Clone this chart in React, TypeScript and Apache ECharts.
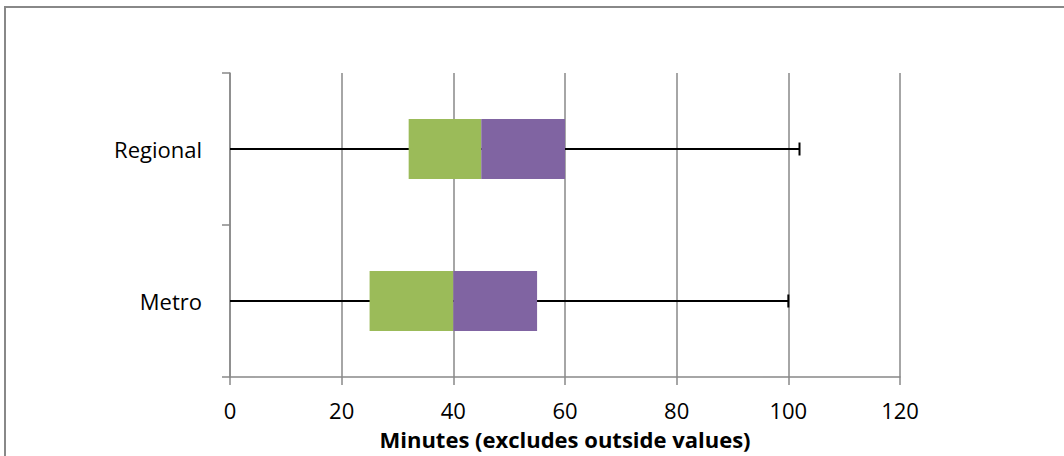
import React, { useEffect, useRef } from "react";
import * as echarts from "echarts";

const categories = ["Metro", "Regional"];
const whiskerLow = [0, 0];
const q1 = [25, 32];
const median = [40, 45];
const q3 = [55, 60];
const whiskerHigh = [100, 102];
const xTicks = { min: 0, max: 120, interval: 20 };
const axisTitle = "Minutes (excludes outside values)";

const FONT = "'Open Sans', 'Noto Sans', sans-serif";

export default function App() {
  const ref = useRef<HTMLDivElement>(null);
  useEffect(() => {
    document.body.style.margin = "0";
    if (!ref.current) return;
    const chart = echarts.init(ref.current, null, { renderer: "svg" });
    const lowerBox = q1.map((v, i) => median[i] - v);
    const upperBox = q3.map((v, i) => v - median[i]);
    const whiskerData = categories.map((_, i) => [i, whiskerLow[i], whiskerHigh[i]]);
    chart.setOption({
      animation: false,
      backgroundColor: "#ffffff",
      textStyle: { fontFamily: FONT },
      graphic: [
        {
          type: "rect",
          shape: { x: 5, y: 7, width: 1200, height: 600 },
          style: { fill: "none", stroke: "#888888", lineWidth: 2 },
          silent: true,
        },
      ],
      grid: { left: 230, right: 164, top: 73, bottom: 79, containLabel: false },
      xAxis: {
        type: "value",
        min: xTicks.min,
        max: xTicks.max,
        interval: xTicks.interval,
        name: axisTitle,
        nameLocation: "middle",
        nameGap: 51,
        nameTextStyle: { fontSize: 22, fontWeight: "bold", color: "#000", fontFamily: FONT },
        axisLine: { show: true, lineStyle: { color: "#888888", width: 1.5 } },
        axisTick: { show: true, length: 8, lineStyle: { color: "#888888", width: 1.5 } },
        axisLabel: { margin: 22, fontSize: 22, color: "#000", fontFamily: FONT },
        splitLine: { show: true, lineStyle: { color: "#888888", width: 1.5 } },
      },
      yAxis: {
        type: "category",
        data: categories,
        axisLine: { show: true, lineStyle: { color: "#888888", width: 1.5 } },
        axisTick: { show: true, length: 8, alignWithLabel: false, lineStyle: { color: "#888888", width: 1.5 } },
        axisLabel: { margin: 28, fontSize: 22, color: "#000", fontFamily: FONT },
        splitLine: { show: false },
      },
      series: [
        {
          type: "custom",
          z: 1,
          data: whiskerData,
          encode: { x: [1, 2], y: 0 },
          renderItem: (params: any, api: any) => {
            const cat = api.value(0);
            const p0 = api.coord([api.value(1), cat]);
            const p1 = api.coord([api.value(2), cat]);
            const cap = 6.5;
            return {
              type: "group",
              children: [
                {
                  type: "line",
                  shape: { x1: p0[0], y1: p0[1], x2: p1[0], y2: p1[1] },
                  style: { stroke: "#000", lineWidth: 2 },
                },
                {
                  type: "line",
                  shape: { x1: p1[0], y1: p1[1] - cap, x2: p1[0], y2: p1[1] + cap },
                  style: { stroke: "#000", lineWidth: 2 },
                },
              ],
            };
          },
        },
        {
          type: "bar",
          stack: "box",
          z: 2,
          barWidth: 60,
          data: q1,
          itemStyle: { color: "transparent" },
          silent: true,
        },
        {
          type: "bar",
          stack: "box",
          z: 2,
          barWidth: 60,
          data: lowerBox,
          itemStyle: { color: "#9BBB59" },
        },
        {
          type: "bar",
          stack: "box",
          z: 2,
          barWidth: 60,
          data: upperBox,
          itemStyle: { color: "#8064A2" },
        },
      ],
    });
    return () => chart.dispose();
  }, []);
  return <div ref={ref} style={{ width: 1064, height: 456 }} />;
}
